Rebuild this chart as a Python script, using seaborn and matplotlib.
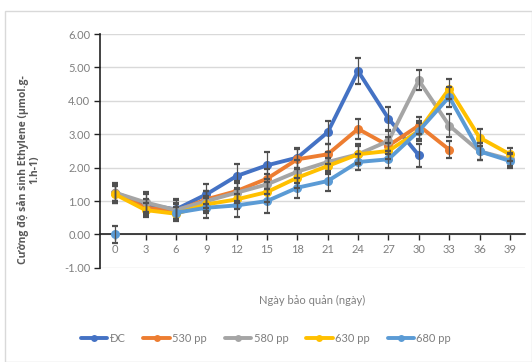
import numpy as np
import pandas as pd
import seaborn as sns
import matplotlib.pyplot as plt
from matplotlib.lines import Line2D

days = [0, 3, 6, 9, 12, 15, 18, 21, 24, 27, 30, 33, 36, 39]
series_names = ["ĐC", "530 pp", "580 pp", "630 pp", "680 pp"]
colors = ["#4472C4", "#ED7D31", "#A5A5A5", "#FFC000", "#5B9BD5"]

nan = np.nan
dc = [1.25, 0.90, 0.75, 1.20, 1.75, 2.07, 2.30, 3.06, 4.89, 3.47, 2.37, nan, nan, nan]
p530 = [1.25, 0.80, 0.70, 1.05, 1.30, 1.67, 2.25, 2.40, 3.16, 2.66, 3.26, 2.54, nan, nan]
p580 = [1.25, 0.96, 0.73, 1.00, 1.25, 1.50, 1.88, 2.17, 2.40, 2.80, 4.61, 3.26, 2.49, 2.25]
p630 = [1.20, 0.73, 0.62, 0.90, 1.05, 1.27, 1.70, 2.05, 2.40, 2.50, 3.10, 4.36, 2.90, 2.40]
p680 = [0.00, nan, 0.65, 0.80, 0.87, 1.00, 1.40, 1.60, 2.17, 2.25, 3.10, 4.12, 2.49, 2.20]

err_dc = [0.30, 0.30, 0.30, 0.30, 0.35, 0.40, 0.30, 0.35, 0.40, 0.35, 0.35, nan, nan, nan]
err_530 = [0.25, 0.25, 0.25, 0.25, 0.30, 0.30, 0.30, 0.30, 0.30, 0.25, 0.25, 0.25, nan, nan]
err_580 = [0.25, 0.30, 0.30, 0.30, 0.30, 0.30, 0.35, 0.30, 0.30, 0.30, 0.30, 0.35, 0.25, 0.20]
err_630 = [0.25, 0.20, 0.20, 0.25, 0.30, 0.30, 0.30, 0.25, 0.25, 0.25, 0.25, 0.30, 0.25, 0.20]
err_680 = [0.25, nan, 0.25, 0.30, 0.35, 0.35, 0.30, 0.30, 0.25, 0.25, 0.30, 0.30, 0.25, 0.20]

values = [dc, p530, p580, p630, p680]
errors = [err_dc, err_530, err_580, err_630, err_680]

rows = []
for name, vals, errs in zip(series_names, values, errors):
    seg = 0
    for d, v, e in zip(days, vals, errs):
        if np.isnan(v):
            seg += 1
            continue
        rows.append({"day": d, "value": v, "err": e, "series": name, "seg": f"{name}_{seg}"})
df = pd.DataFrame(rows)

sns.set_theme(style="white")
plt.rcParams["font.family"] = ["Lato", "DejaVu Sans"]

fig = plt.figure(figsize=(5.32, 3.62), dpi=100)
ax = fig.add_axes([0.188, 0.26, 0.799, 0.646])

for name, color in zip(series_names, colors):
    sub = df[df["series"] == name]
    sns.lineplot(data=sub, x="day", y="value", units="seg", estimator=None,
                 color=color, lw=2.8, marker="o", markersize=6.5,
                 markeredgewidth=0, ax=ax, legend=False, zorder=3)
    ax.errorbar(sub["day"], sub["value"], yerr=sub["err"], fmt="none",
                ecolor="#505050", elinewidth=0.9, capsize=2.2, capthick=1.6, zorder=4)

ax.set_xlim(-1.5, 40.5)
ax.set_ylim(-1, 6)
ax.set_xticks(days)
ax.set_yticks(range(-1, 7))
ax.set_yticklabels([f"{v:.2f}" for v in range(-1, 7)])
ax.grid(axis="y", color="#D9D9D9", lw=1)
ax.grid(axis="x", visible=False)

for s in ["top", "right"]:
    ax.spines[s].set_visible(False)
ax.spines["bottom"].set_position(("data", 0))
ax.spines["bottom"].set_color("#222222")
ax.spines["left"].set_color("#222222")
ax.spines["bottom"].set_linewidth(1.2)
ax.spines["left"].set_linewidth(1.2)
ax.tick_params(axis="both", direction="out", length=4, width=1, color="#222222",
               labelsize=8, labelcolor="#7F7F7F", pad=3, left=True, bottom=True)

ax.set_xlabel("Ngày bảo quản (ngày)", fontsize=8, color="#7F7F7F")
ax.xaxis.set_label_coords(0.5, -0.115)
ax.set_ylabel("Cường độ sản sinh Ethylene (µmol.g-\n1.h-1)", fontsize=7.5,
              color="#595959", fontweight="bold", family=["Open Sans", "DejaVu Sans"],
              linespacing=1.1)
ax.yaxis.set_label_coords(-0.14, 0.42)

handles = [Line2D([0], [0], color=c, lw=2.8, marker="o", markersize=5, markeredgewidth=0)
           for c in colors]
fig.legend(handles, series_names, loc="center", bbox_to_anchor=(0.5, 0.066), ncol=5,
           frameon=False, fontsize=8, labelcolor="#7F7F7F", handlelength=2.4,
           handletextpad=0.2, columnspacing=1.6)

fig.patches.append(plt.Rectangle((0.01, 0.0), 0.99, 0.97, transform=fig.transFigure,
                                 fill=False, edgecolor="#D9D9D9", lw=1))

fig.savefig("out.png", dpi=100)
plt.close(fig)
